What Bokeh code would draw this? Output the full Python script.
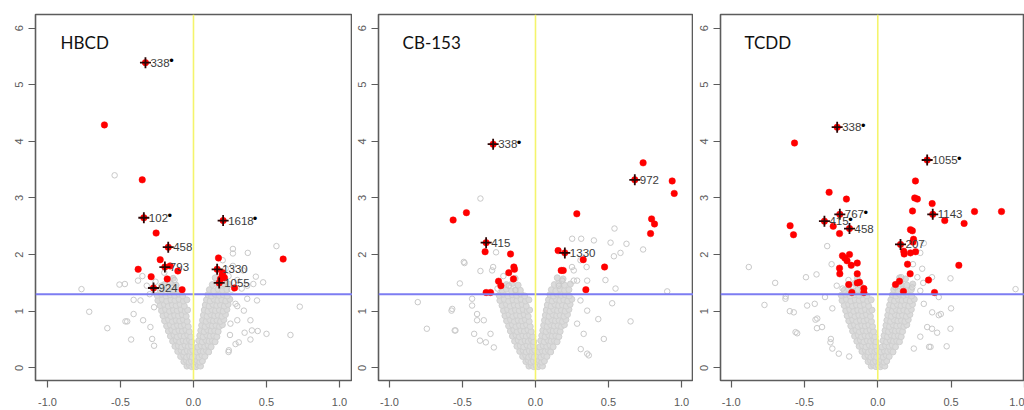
from bokeh.plotting import figure
from bokeh.layouts import row
from bokeh.models import ColumnDataSource, FixedTicker, PrintfTickFormatter, Span, Range1d
from bokeh.core.properties import value
from bokeh.embed import file_html
from bokeh.resources import INLINE

# ---------------- data ----------------
titles = ["HBCD", "CB-153", "TCDD"]
x_ticks = [-1.0, -0.5, 0.0, 0.5, 1.0]
y_ticks = [0, 1, 2, 3, 4, 5, 6]
p_cut = 1.3          # -log10(0.05)
x_zero = 0.0

# dense non-significant cloud (visual estimate, same V shape in all three panels)
cloud = [
    (-0.045,0.03),(-0.028,0.05),(-0.012,0.02),(0.004,0.04),(0.018,0.02),(0.033,0.05),(0.048,0.03),
    (-0.066,0.11),(-0.049,0.13),(-0.03,0.10),(-0.014,0.12),(0.008,0.11),(0.025,0.13),(0.043,0.10),(0.061,0.12),
    (-0.088,0.20),(-0.067,0.22),(-0.047,0.19),(-0.026,0.21),(-0.008,0.19),(0.016,0.21),(0.037,0.19),(0.058,0.22),(0.078,0.20),
    (-0.108,0.29),(-0.085,0.31),(-0.063,0.28),(-0.042,0.30),(-0.02,0.29),(-0.005,0.31),(0.022,0.28),(0.045,0.30),(0.067,0.29),(0.088,0.31),(0.104,0.28),
    (-0.127,0.38),(-0.104,0.39),(-0.081,0.37),(-0.058,0.40),(-0.035,0.38),(-0.014,0.39),(0.029,0.37),(0.053,0.39),(0.077,0.38),(0.099,0.40),(0.121,0.37),
    (-0.143,0.47),(-0.119,0.49),(-0.095,0.46),(-0.071,0.48),(-0.049,0.47),(-0.027,0.49),(-0.012,0.46),(0.036,0.48),(0.06,0.46),(0.084,0.49),(0.107,0.47),(0.129,0.48),(0.148,0.46),
    (-0.158,0.56),(-0.134,0.58),(-0.111,0.55),(-0.087,0.57),(-0.063,0.56),(-0.04,0.58),(-0.019,0.55),(0.043,0.57),(0.066,0.55),(0.091,0.58),(0.115,0.56),(0.139,0.57),(0.16,0.55),
    (-0.172,0.65),(-0.149,0.67),(-0.125,0.64),(-0.1,0.66),(-0.076,0.65),(-0.052,0.67),(-0.029,0.64),(0.05,0.66),(0.073,0.64),(0.097,0.67),(0.121,0.65),(0.145,0.66),(0.169,0.64),
    (-0.184,0.74),(-0.159,0.76),(-0.134,0.73),(-0.109,0.75),(-0.085,0.74),(-0.061,0.76),(-0.036,0.73),(0.056,0.75),(0.08,0.73),(0.104,0.76),(0.129,0.74),(0.154,0.75),(0.178,0.73),(0.198,0.76),
    (-0.198,0.83),(-0.171,0.85),(-0.145,0.82),(-0.119,0.84),(-0.094,0.83),(-0.069,0.85),(-0.043,0.82),(0.062,0.84),(0.087,0.82),(0.111,0.85),(0.137,0.83),(0.161,0.84),(0.185,0.82),(0.208,0.85),
    (-0.209,0.92),(-0.181,0.94),(-0.155,0.91),(-0.129,0.93),(-0.103,0.92),(-0.077,0.94),(-0.05,0.91),(0.068,0.93),(0.093,0.91),(0.119,0.94),(0.145,0.92),(0.169,0.93),(0.195,0.91),(0.219,0.94),
    (-0.219,1.01),(-0.191,1.03),(-0.164,1.00),(-0.137,1.02),(-0.111,1.01),(-0.084,1.03),(-0.057,1.00),(-0.04,1.02),(0.074,1.02),(0.099,1.00),(0.125,1.03),(0.151,1.01),(0.177,1.02),(0.203,1.00),(0.229,1.03),
    (-0.229,1.10),(-0.199,1.12),(-0.173,1.09),(-0.145,1.11),(-0.119,1.10),(-0.091,1.12),(-0.063,1.09),(0.081,1.11),(0.107,1.09),(0.133,1.12),(0.159,1.10),(0.185,1.11),(0.211,1.09),(0.237,1.12),
    (-0.244,1.19),(-0.214,1.21),(-0.184,1.18),(-0.154,1.20),(-0.127,1.19),(-0.099,1.21),(-0.069,1.18),(-0.045,1.20),(0.089,1.20),(0.114,1.18),(0.141,1.21),(0.167,1.19),(0.194,1.20),(0.221,1.18),(0.249,1.21),
    (-0.249,1.28),(-0.219,1.30),(-0.189,1.27),(-0.159,1.29),(-0.129,1.28),(-0.099,1.30),(-0.074,1.27),(0.099,1.29),(0.124,1.27),(0.149,1.30),(0.177,1.28),(0.204,1.29),(0.231,1.27),
    (-0.229,1.37),(-0.199,1.39),(-0.164,1.36),(-0.134,1.38),(-0.104,1.37),(0.109,1.38),(0.139,1.36),(0.169,1.39),(0.199,1.37),(0.229,1.38),
    (-0.199,1.47),(-0.159,1.49),(-0.119,1.46),(0.129,1.47),(0.159,1.49),(0.199,1.46),(0.239,1.48),
    (-0.139,1.58),(0.149,1.59),(0.189,1.57),
]

# HBCD
hbcd_grey = [
    (-0.54,3.40),(-0.767,1.39),(-0.714,0.99),(-0.59,0.70),(-0.427,0.50),(-0.454,0.82),(-0.507,1.47),(-0.41,1.20),
    (-0.38,1.54),(-0.35,1.62),(-0.466,0.82),(-0.41,0.95),(-0.345,0.84),(-0.295,0.72),(-0.283,0.51),(-0.27,0.39),
    (-0.363,1.19),(-0.27,1.07),(-0.47,1.48),(-0.32,1.45),(-0.30,1.30),(-0.26,1.52),(-0.22,1.45),(-0.18,1.40),
    (-0.14,1.35),(-0.20,1.68),(-0.13,1.55),
    (0.27,2.10),(0.27,2.02),(0.372,2.03),(0.568,2.15),(0.427,1.61),(0.477,1.51),(0.41,1.48),(0.728,1.08),(0.664,0.58),
    (0.435,1.19),(0.39,0.84),(0.44,0.65),(0.50,0.60),(0.35,0.62),(0.30,1.09),(0.31,0.45),(0.24,0.28),(0.25,0.58),
    (0.20,1.90),(0.288,1.13),(0.345,1.01),(0.368,1.22),(0.40,0.66),(0.39,0.50),(0.288,0.42),(0.242,0.31),(0.253,0.78),
    (0.30,0.84),(0.208,1.48),(0.368,1.45),(0.26,1.38),(0.30,1.55),(0.33,1.40),(0.24,1.62),(0.27,1.80),(0.34,1.72),(0.22,1.75),
]
hbcd_red = [
    (-0.61,4.29),(-0.351,3.32),(-0.256,2.38),(-0.228,1.91),(-0.379,1.74),(-0.29,1.61),(-0.18,1.57),(-0.16,1.80),
    (-0.107,1.71),(-0.078,1.38),(0.614,1.92),(0.171,1.94),(0.196,1.64),(0.212,1.59),(0.185,1.57),(0.281,1.41),(0.20,1.68),
]
hbcd_lab_x = [-0.329, -0.34, 0.203, -0.173, -0.196, -0.274, 0.162, 0.176]
hbcd_lab_y = [5.39, 2.65, 2.60, 2.13, 1.78, 1.41, 1.74, 1.50]
hbcd_lab_text = ["338", "102", "1618", "458", "793", "924", "1330", "1055"]
hbcd_lab_star = [True, True, True, False, False, False, False, False]

# CB-153
cb_grey = [
    (-0.377,2.99),(-0.806,1.16),(-0.744,0.69),(-0.575,1.01),(-0.553,0.66),(-0.518,1.49),(-0.486,1.85),(-0.377,1.71),
    (-0.434,1.10),(-0.40,0.84),(-0.42,0.60),(-0.34,0.45),(-0.27,2.04),(-0.29,1.78),(-0.491,1.87),(-0.297,1.72),
    (-0.183,1.45),(-0.137,1.37),(-0.434,1.22),(-0.40,0.95),(-0.57,1.04),(-0.548,0.66),(-0.354,0.84),(-0.308,0.60),
    (-0.38,0.48),(-0.285,0.36),(-0.22,1.62),(-0.26,1.40),
    (0.541,2.46),(0.514,2.21),(0.623,2.19),(0.737,2.09),(0.582,2.03),(0.537,1.97),(0.40,2.25),(0.313,2.28),(0.479,1.55),
    (0.548,1.40),(0.525,1.14),(0.43,0.86),(0.651,0.82),(0.468,0.51),(0.365,0.22),(0.31,0.33),(0.902,1.35),(0.285,1.54),
    (0.35,1.78),(0.25,1.78),(0.251,2.28),(0.308,1.90),(0.262,1.72),(0.183,1.54),(0.262,1.54),(0.354,1.54),(0.16,1.45),
    (0.308,1.19),(0.354,1.01),(0.285,0.78),(0.33,0.60),(0.354,0.25),
]
cb_red = [
    (0.737,3.62),(0.936,3.30),(0.95,3.08),(0.795,2.63),(0.815,2.54),(0.788,2.37),(0.283,2.72),(-0.473,2.74),
    (-0.564,2.61),(-0.345,2.05),(-0.171,2.01),(-0.148,1.78),(-0.144,1.74),(-0.183,1.68),(-0.151,1.57),(-0.253,1.53),
    (-0.237,1.45),(-0.338,1.33),(-0.308,1.33),(0.155,2.07),(0.176,1.72),(0.19,1.72),(0.327,1.91),(0.473,1.78),(0.345,1.38),
]
cb_lab_x = [-0.29, 0.68, -0.338, 0.201]
cb_lab_y = [3.95, 3.32, 2.21, 2.03]
cb_lab_text = ["338", "972", "415", "1330"]
cb_lab_star = [True, False, False, False]

# TCDD
tc_grey = [
    (-0.88,1.78),(-0.70,1.50),(-0.773,1.11),(-0.628,1.26),(-0.55,0.61),(-0.418,1.65),(-0.49,1.60),(-0.345,2.15),
    (-0.315,1.83),(-0.60,1.0),(-0.425,0.85),(-0.415,0.70),(-0.32,0.51),(-0.31,0.34),(-0.195,0.20),(-0.63,1.22),
    (-0.561,0.63),(-0.573,0.98),(-0.482,1.10),(-0.413,0.87),(-0.43,1.13),(-0.38,0.72),(-0.323,0.45),(-0.266,0.25),
    (-0.36,1.25),(-0.31,1.05),(-0.28,1.45),(-0.24,1.40),(-0.20,1.55),(-0.17,1.42),
    (0.303,1.75),(0.37,1.60),(0.416,1.25),(0.50,1.05),(0.496,0.69),(0.37,0.69),(0.416,0.93),(0.496,1.58),(0.94,1.39),
    (0.314,2.20),(0.29,2.03),(0.31,1.50),(0.24,1.83),(0.35,0.37),(0.47,0.38),(0.314,1.13),(0.371,0.98),(0.43,0.95),
    (0.337,0.72),(0.405,0.62),(0.29,0.55),(0.246,0.34),(0.36,0.37),(0.235,1.42),(0.29,1.36),(0.12,1.42),(0.27,1.60),(0.16,1.60),
]
tc_red = [
    (-0.568,3.97),(-0.332,3.10),(-0.214,2.98),(-0.598,2.51),(-0.575,2.35),(-0.304,2.50),(-0.261,2.37),(0.257,3.30),
    (0.252,3.00),(0.27,2.98),(0.237,2.77),(0.371,2.90),(0.457,2.60),(0.589,2.55),(0.66,2.76),(0.844,2.76),(0.553,1.81),
    (0.223,2.44),(0.236,2.42),(0.244,2.27),(0.24,2.22),(0.177,2.06),(0.18,2.01),(0.223,2.03),(0.258,2.05),(0.203,1.83),
    (0.221,1.66),(0.148,1.53),(0.121,1.47),(0.175,1.35),(0.346,1.55),(0.387,1.33),(-0.241,1.98),(-0.225,1.94),
    (-0.21,1.89),(-0.193,2.0),(-0.181,1.81),(-0.14,1.85),(-0.261,1.76),(-0.259,1.66),(-0.14,1.66),(-0.198,1.47),
    (-0.14,1.50),(-0.125,1.51),(-0.177,1.33),(-0.095,1.40),(-0.095,1.33),
]
tc_lab_x = [-0.277, 0.337, -0.259, -0.364, -0.193, 0.375, 0.155]
tc_lab_y = [4.25, 3.67, 2.71, 2.59, 2.46, 2.71, 2.18]
tc_lab_text = ["338", "1055", "767", "415", "458", "1143", "207"]
tc_lab_star = [True, True, True, True, False, False, False]

panels = [
    (hbcd_grey, hbcd_red, hbcd_lab_x, hbcd_lab_y, hbcd_lab_text, hbcd_lab_star),
    (cb_grey, cb_red, cb_lab_x, cb_lab_y, cb_lab_text, cb_lab_star),
    (tc_grey, tc_red, tc_lab_x, tc_lab_y, tc_lab_text, tc_lab_star),
]

# ---------------- layout / style ----------------
widths = [352, 341, 331]
left_borders = [35, 26, 27]
x_ranges = [(-1.082, 1.089), (-1.075, 1.082), (-1.073, 1.001)]
y_range = (-0.224, 6.24)
FRAME = "#5c5c5c"
TICKFONT = "Liberation Sans"


def make_panel(i):
    grey, red, lx, ly, lt, ls = panels[i]
    p = figure(width=widths[i], height=410,
               x_range=Range1d(*x_ranges[i]), y_range=Range1d(*y_range),
               output_backend="svg", toolbar_location=None,
               min_border_left=left_borders[i], min_border_right=0,
               min_border_top=14, min_border_bottom=30)
    p.grid.visible = False
    p.outline_line_color = FRAME
    p.outline_line_width = 1.6
    p.background_fill_color = "white"
    p.border_fill_color = "white"

    for ax in (p.xaxis[0], p.yaxis[0]):
        ax.axis_line_color = None
        ax.minor_tick_line_color = None
        ax.major_tick_in = 0
        ax.major_tick_out = 7
        ax.major_tick_line_color = FRAME
        ax.major_tick_line_width = 1.2
        ax.major_label_text_font = TICKFONT
        ax.major_label_text_font_size = "11px"
        ax.major_label_text_color = "#5a5a5a"
    p.xaxis.ticker = FixedTicker(ticks=x_ticks)
    p.xaxis.formatter = PrintfTickFormatter(format="%.1f")
    p.xaxis.major_label_standoff = 10
    p.yaxis.ticker = FixedTicker(ticks=y_ticks)
    p.yaxis.major_label_orientation = "vertical"
    p.yaxis.major_label_standoff = 5

    # grey cloud
    p.scatter([c[0] for c in cloud], [c[1] for c in cloud], marker="circle", size=6,
              fill_color="#dbdbdb", line_color="#d0d0d0", line_width=1)
    p.scatter([g[0] for g in grey], [g[1] for g in grey], marker="circle", size=5.5,
              fill_color=None, line_color="#c9c9c9", line_width=1)

    p.add_layout(Span(location=p_cut, dimension="width", line_color="#7d7df2",
                      line_width=2, level="glyph"))
    p.add_layout(Span(location=x_zero, dimension="height", line_color="#f4f46c",
                      line_width=1.6, level="glyph"))

    # significant
    p.scatter([r[0] for r in red] + lx, [r[1] for r in red] + ly, marker="circle", size=6.5,
              fill_color="#ff0000", line_color="#ff0000", line_width=0.5)
    p.scatter(lx, ly, marker="cross", size=11, line_color="#2b0505", line_width=1.8)

    src = ColumnDataSource(dict(x=lx, y=ly, t=lt))
    p.text(x="x", y="y", text="t", source=src, x_offset=5,
           text_font=value(TICKFONT), text_font_size="11.5px",
           text_baseline="middle", text_color="#3c3c3c")
    sx = [x for x, s in zip(lx, ls) if s]
    sy = [y for y, s in zip(ly, ls) if s]
    so = [8 + 6 * len(t) for t, s in zip(lt, ls) if s]
    ssrc = ColumnDataSource(dict(x=sx, y=sy, o=so, t=["\u2022"] * len(sx)))
    p.text(x="x", y="y", text="t", source=ssrc, x_offset="o", y_offset=-2,
           text_font=value(TICKFONT), text_font_size="13px", text_align="center",
           text_baseline="middle", text_color="black")

    p.text(x=[-0.91], y=[5.74], text=[titles[i]], text_font=value("Lato"),
           text_font_size="17px", text_baseline="middle", text_color="#111111")
    return p


layout = row(*[make_panel(i) for i in range(3)])
open("out.html", "w").write(file_html(layout, INLINE))
